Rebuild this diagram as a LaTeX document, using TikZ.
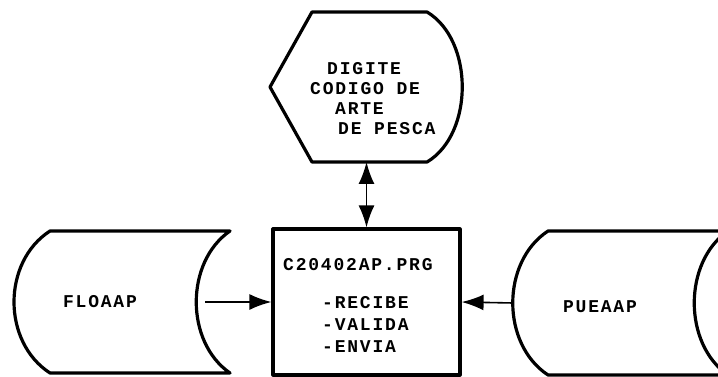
\documentclass[tikz,border=0pt]{standalone}
\usepackage{fontspec}
\usepackage{tikz}
\usetikzlibrary{arrows.meta}
\newfontfamily\printfont[LetterSpace=10]{Liberation Mono}

\begin{document}
\begin{tikzpicture}[x=1pt,y=-1pt,
  shape line/.style={line width=3.2pt,line join=round},
  flow/.style={line width=1.6pt,arrows={-{Latex[length=22pt,width=16pt]}}},
  both flow/.style={line width=1.6pt,arrows={{Latex[length=22pt,width=16pt]}-{Latex[length=22pt,width=16pt]}}},
  every node/.style={font=\fontsize{18}{20}\selectfont\printfont\bfseries,inner sep=0pt}]
\useasboundingbox (0,0) rectangle (718,377);
\clip (0,0) rectangle (718,377);
% display: input of the code
\draw[shape line] (312,12) -- (427,12) .. controls (474,40) and (474,134) .. (427,162) -- (312,162) -- (270,87) -- cycle;
\coordinate (digite bottom) at (365,162);
\node[anchor=west,align=left] (digite) at (310,99) {\hspace*{17pt}DIGITE\\CODIGO DE\\\hspace*{25pt}ARTE\\\hspace*{28pt}DE PESCA};
% program
\node[draw,shape line,minimum width=187pt,minimum height=146pt] (prog) at (366.5,302) {};
\node[anchor=west] (title) at (283,265) {C20402AP.PRG};
\node[anchor=north west,align=left] (steps) at (322,296) {-RECIBE\\[2pt]-VALIDA\\[2pt]-ENVIA};
% stored data, left
\draw[shape line] (50,231) -- (230,231) .. controls (185,262) and (185,342) .. (230,373) -- (50,373) .. controls (2,342) and (2,262) .. cycle;
\coordinate (floaap out) at (205,302);
\node (floaap) at (100,302) {FLOAAP};
% stored data, right
\draw[shape line] (548,231) -- (728,231) .. controls (683,262) and (683,344) .. (728,375) -- (548,375) .. controls (501,344) and (501,262) .. cycle;
\coordinate (pueaap in) at (513,303);
\node (pueaap) at (600,307) {PUEAAP};
% connectors
\draw[both flow] (prog.north |- digite bottom) -- (prog.north);
\draw[flow] (floaap out) -- (prog.west);
\draw[flow] (pueaap in) -- (prog.east);
\end{tikzpicture}
\end{document}
